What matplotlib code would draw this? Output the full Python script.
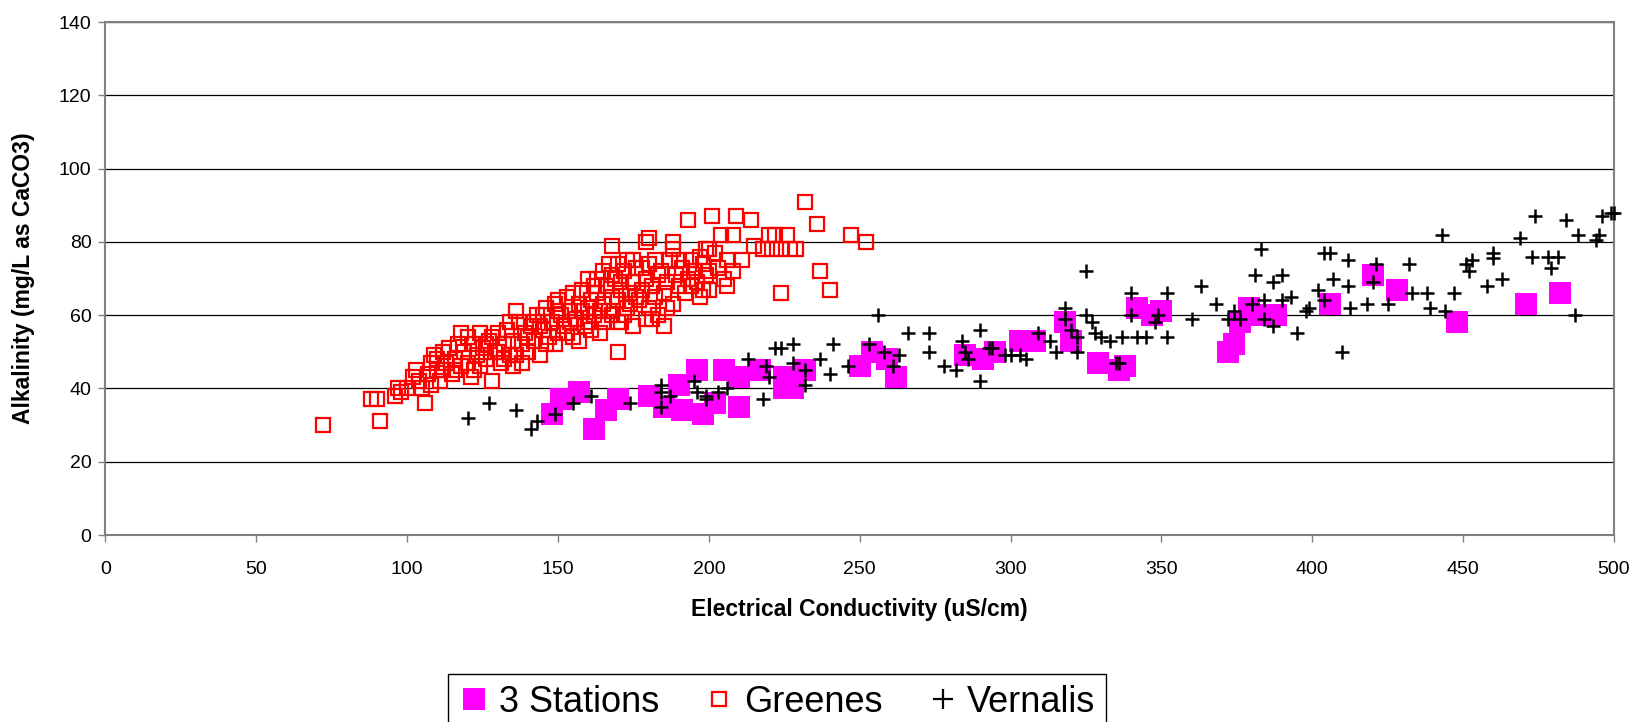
import numpy as np
import matplotlib
matplotlib.use('Agg')
from matplotlib import pyplot as plt

plt.rcParams['font.family'] = ['Liberation Sans', 'DejaVu Sans']

# (EC uS/cm, alkalinity mg/L)
stations3 = [(148, 33), (151, 37), (157, 39), (162, 29), (166, 34), (170, 37), (180, 38),
             (185, 35), (190, 41), (191, 34), (196, 45), (198, 33), (202, 36), (205, 45),
             (210, 35), (210, 43), (217, 45), (225, 43), (225, 40), (228, 40), (232, 45),
             (250, 46), (254, 50), (259, 48), (262, 43), (285, 49), (291, 48), (295, 50),
             (303, 53), (308, 53), (318, 58), (320, 53), (329, 47), (336, 45), (338, 46),
             (342, 62), (347, 60), (350, 61), (372, 50), (374, 52), (376, 58), (379, 62),
             (382, 60), (388, 60), (406, 63), (420, 71), (428, 67), (448, 58), (471, 63),
             (482, 66)]

greenes = [(72, 30), (88, 37), (90, 37), (91, 31), (96, 38), (97, 40), (98, 39), (100, 40),
           (102, 43), (103, 45), (104, 42), (105, 40), (106, 36), (107, 44), (108, 47), (109, 49),
           (110, 45), (111, 42), (112, 50), (113, 47), (114, 51), (115, 44), (116, 48), (117, 52),
           (118, 46), (119, 50), (120, 54), (120, 47), (121, 43), (122, 52), (123, 49), (124, 55),
           (125, 51), (126, 48), (127, 53), (128, 42), (129, 50), (130, 55), (131, 47), (132, 52),
           (133, 56), (134, 49), (135, 53), (135, 46), (136, 61), (137, 58), (138, 52), (139, 55),
           (140, 50), (141, 57), (142, 53), (143, 60), (144, 49), (145, 56), (146, 62), (147, 54),
           (148, 58), (149, 63), (150, 55), (151, 60), (152, 57), (153, 65), (154, 61), (155, 54),
           (156, 59), (157, 63), (158, 67), (159, 57), (160, 62), (161, 64), (162, 60), (163, 66),
           (164, 55), (165, 63), (166, 68), (167, 61), (168, 65), (169, 70), (170, 58), (170, 64),
           (171, 67), (172, 72), (173, 62), (174, 66), (175, 69), (176, 73), (177, 64), (178, 67),
           (179, 70), (180, 62), (180, 74), (181, 68), (182, 65), (183, 71), (184, 72), (185, 66),
           (186, 69), (187, 75), (188, 63), (189, 71), (190, 68), (191, 73), (192, 66), (193, 70),
           (194, 75), (195, 72), (196, 69), (197, 76), (198, 74), (199, 71), (200, 78),
           (118, 55), (122, 45), (126, 52), (130, 50), (134, 58), (138, 47), (142, 58), (146, 52),
           (150, 61), (154, 58), (158, 61), (162, 68), (165, 58), (168, 71), (172, 60), (176, 65),
           (178, 73), (182, 75), (186, 62), (190, 75), (194, 68), (198, 67), (157, 53), (161, 56),
           (163, 70), (167, 74), (171, 69), (174, 63), (145, 60), (149, 52), (153, 55), (128, 54),
           (132, 48), (124, 46), (116, 45), (112, 45), (110, 48), (108, 41), (144, 57), (140, 54),
           (136, 49), (160, 58), (164, 61), (168, 60), (175, 57), (179, 59), (183, 60), (185, 57),
           (181, 59), (170, 50), (171, 58), (173, 75), (180, 81), (179, 80), (168, 79), (188, 80),
           (193, 86), (201, 87), (209, 87), (214, 86), (232, 91), (236, 85), (247, 82), (252, 80),
           (237, 72), (240, 67), (224, 66), (206, 75), (211, 75), (206, 68), (215, 79), (218, 78),
           (220, 82), (222, 82), (226, 82), (221, 78), (224, 78), (227, 78), (229, 78), (204, 82),
           (208, 82), (199, 78), (202, 77), (200, 67), (200, 72), (188, 78), (203, 73), (205, 70),
           (208, 72), (197, 65), (160, 70), (165, 72), (155, 66), (150, 64), (170, 74), (175, 75)]

vernalis = [(120, 32), (127, 36), (136, 34), (141, 29), (143, 31), (149, 33), (155, 36), (161, 38),
            (174, 36), (184, 41), (184, 39), (184, 35), (187, 38), (195, 42), (196, 39), (199, 37),
            (199, 38), (203, 39), (206, 40), (213, 48), (218, 37), (219, 46), (220, 43), (222, 51),
            (224, 51), (228, 52), (228, 47), (232, 41), (232, 45), (237, 48), (240, 44), (241, 52),
            (246, 46), (253, 52), (256, 60), (258, 50), (261, 46), (263, 49), (266, 55), (273, 55),
            (273, 50), (278, 46), (282, 45), (284, 53), (285, 50), (286, 48), (290, 56), (290, 42),
            (293, 51), (294, 51), (298, 49), (300, 49), (303, 49), (305, 48), (309, 55), (313, 53),
            (315, 50), (318, 62), (318, 59), (320, 56), (322, 54), (322, 50), (325, 72), (325, 60),
            (327, 58), (328, 55), (330, 54), (333, 53), (335, 47), (337, 54), (336, 47), (340, 66),
            (340, 60), (342, 54), (345, 54), (349, 60), (348, 58), (352, 66), (352, 54), (360, 59),
            (363, 68), (368, 63), (372, 59), (374, 61), (376, 59), (380, 63), (381, 71), (383, 78),
            (384, 64), (384, 59), (387, 57), (387, 69), (390, 71), (390, 64), (393, 65), (395, 55),
            (398, 61), (399, 62), (402, 67), (404, 64), (404, 77), (406, 77), (407, 70), (410, 50),
            (412, 75), (412, 68), (412.5, 62), (418, 63), (421, 74), (420, 69), (425, 63), (432, 74),
            (433, 66), (438, 66), (439, 62), (443, 82), (444, 61), (447, 66), (451, 74), (452, 72),
            (453, 75), (458, 68), (460, 77), (460, 75.5), (463, 70), (469, 81), (474, 87), (473, 76),
            (478, 76), (479, 73), (481.5, 76), (484, 86), (487, 60), (488, 82), (494, 80.5),
            (495, 82), (496, 87), (499, 88), (500, 88)]

s3_x, s3_y = np.array(stations3).T
gr_x, gr_y = np.array(greenes).T
ve_x, ve_y = np.array(vernalis).T

fig = plt.figure(figsize=(16.38, 7.22), dpi=100)
ax = fig.add_axes([0.0644, 0.259, 0.9209, 0.7105])

ax.plot(s3_x, s3_y, 's', color='#FF00FF', markersize=16, markeredgewidth=0,
        label='3 Stations', clip_on=False, zorder=3)
ax.plot(gr_x, gr_y, 's', markerfacecolor='none', markeredgecolor='#FF0000', markersize=10,
        markeredgewidth=1.6, label='Greenes', clip_on=False, zorder=4)
ax.plot(ve_x, ve_y, '+', color='black', markersize=9.5, markeredgewidth=1.8,
        label='Vernalis', clip_on=False, zorder=5)

ax.set_xlim(0, 500)
ax.set_ylim(0, 140)
ax.set_xticks(np.arange(0, 501, 50))
ax.set_yticks(np.arange(0, 141, 20))
ax.yaxis.grid(True, color='black', linewidth=0.9)
ax.set_axisbelow(True)
for sp in ax.spines.values():
    sp.set_color('#808080')
    sp.set_linewidth(1.5)
ax.tick_params(direction='out', length=5, color='#808080', width=1, labelsize=14)
ax.tick_params(axis='x', pad=14)
ax.tick_params(axis='y', pad=5)

ax.set_xlabel('Electrical Conductivity (uS/cm)', fontsize=16.5, fontweight='bold', labelpad=14)
ax.set_ylabel('Alkalinity (mg/L as CaCO3)', fontsize=16.5, fontweight='bold', labelpad=17)

leg = fig.legend(loc='upper left', bbox_to_anchor=(448 / 1638, 1 - 674 / 722), ncol=3,
                 fontsize=26, frameon=True, fancybox=False, framealpha=1, edgecolor='black',
                 handlelength=0.85, handletextpad=0.25, columnspacing=1.25, borderpad=0.3,
                 borderaxespad=0)
leg.get_frame().set_linewidth(1.0)
# the plus in the legend reads like a text glyph in the original
leg.legend_handles[2].set_markersize(14)
leg.legend_handles[2].set_markeredgewidth(1.6)

fig.savefig('out.png', dpi=100)
